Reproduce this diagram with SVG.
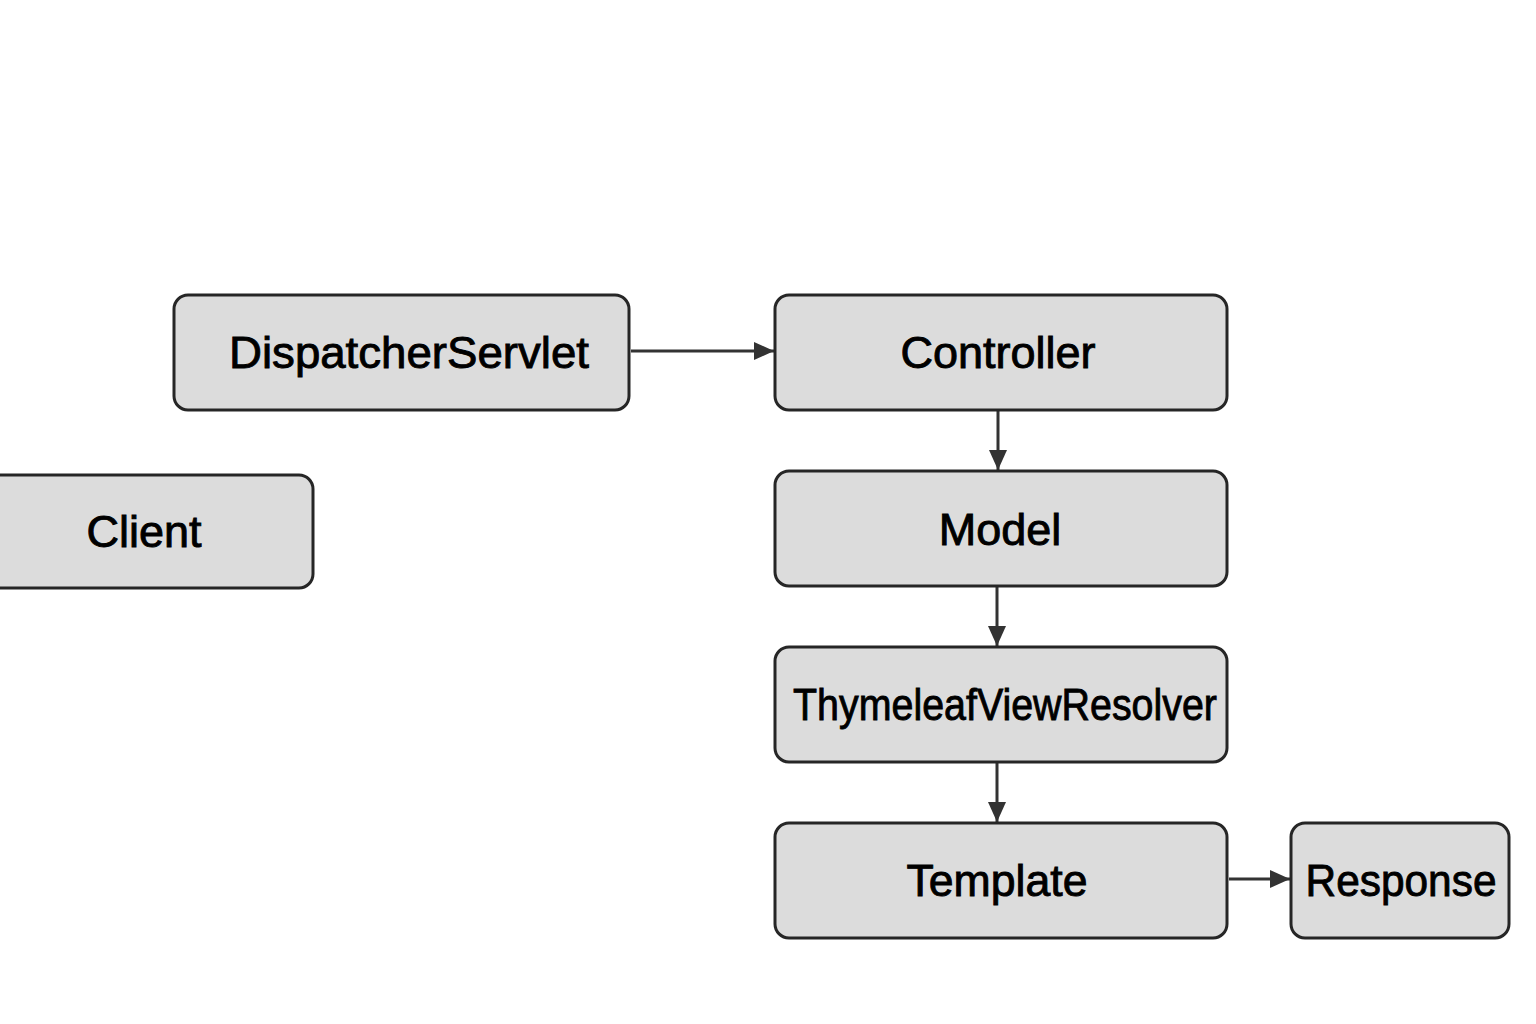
<svg xmlns="http://www.w3.org/2000/svg" width="1536" height="1024" viewBox="0 0 1536 1024">
<defs>
<style>
.box{fill:#dcdcdc;stroke:#262626;stroke-width:3}
.lbl{font-family:"Liberation Sans",Arial,sans-serif;font-size:45px;fill:#000;stroke:#000;stroke-width:0.9;text-anchor:middle}
.edge{stroke:#333;stroke-width:3;fill:none}
</style>
<marker id="ah" viewBox="0 0 20 18" refX="20" refY="9" markerWidth="21" markerHeight="18" markerUnits="userSpaceOnUse" orient="auto">
<path d="M0,0 L20,9 L0,18 Z" fill="#333"/>
</marker>
</defs>
<rect width="1536" height="1024" fill="#fff"/>
<g id="connectors">
<line class="edge" x1="631" y1="351" x2="774" y2="351" marker-end="url(#ah)"/>
<line class="edge" x1="998" y1="411" x2="998" y2="470" marker-end="url(#ah)"/>
<line class="edge" x1="997" y1="587" x2="997" y2="646" marker-end="url(#ah)"/>
<line class="edge" x1="997" y1="763" x2="997" y2="822" marker-end="url(#ah)"/>
<line class="edge" x1="1229" y1="879" x2="1290" y2="879" marker-end="url(#ah)"/>
</g>
<g id="client">
<rect class="box" x="-25" y="475" width="338" height="113" rx="14"/>
<text class="lbl" x="144" y="547">Client</text>
</g>
<g id="dispatcher">
<rect class="box" x="174" y="295" width="455" height="115" rx="14"/>
<text class="lbl" x="409" y="368" textLength="360" lengthAdjust="spacingAndGlyphs">DispatcherServlet</text>
</g>
<g id="controller">
<rect class="box" x="775" y="295" width="452" height="115" rx="14"/>
<text class="lbl" x="998" y="368">Controller</text>
</g>
<g id="model">
<rect class="box" x="775" y="471" width="452" height="115" rx="14"/>
<text class="lbl" x="1000" y="545">Model</text>
</g>
<g id="resolver">
<rect class="box" x="775" y="647" width="452" height="115" rx="14"/>
<text class="lbl" x="1005" y="720" textLength="424" lengthAdjust="spacingAndGlyphs">ThymeleafViewResolver</text>
</g>
<g id="template">
<rect class="box" x="775" y="823" width="452" height="115" rx="14"/>
<text class="lbl" x="997" y="896" textLength="181" lengthAdjust="spacingAndGlyphs">Template</text>
</g>
<g id="response">
<rect class="box" x="1291" y="823" width="218" height="115" rx="14"/>
<text class="lbl" x="1401" y="896" textLength="191" lengthAdjust="spacingAndGlyphs">Response</text>
</g>
</svg>
